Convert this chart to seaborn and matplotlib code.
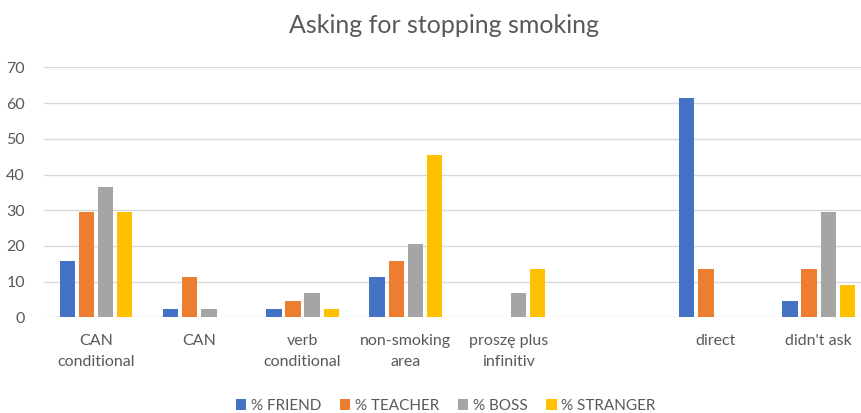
import numpy as np
import pandas as pd
import seaborn as sns
import matplotlib.pyplot as plt

sns.set_style('white')
plt.rcParams['font.family'] = ['Lato', 'DejaVu Sans']

categories = ['CAN\nconditional', 'CAN', 'verb\nconditional', 'non-smoking\narea',
              'proszę plus\ninfinitiv', '', 'direct', "didn't ask"]
series = ['% FRIEND', '% TEACHER', '% BOSS', '% STRANGER']
friend = [15.9, 2.3, 2.3, 11.4, 0, 0, 61.4, 4.5]
teacher = [29.5, 11.4, 4.5, 15.9, 0, 0, 13.6, 13.6]
boss = [36.4, 2.3, 6.8, 20.5, 6.8, 0, 0, 29.5]
stranger = [29.5, 0, 2.3, 45.5, 13.6, 0, 0, 9.1]
colors = ['#4472C4', '#ED7D31', '#A5A5A5', '#FFC000']

rows = []
for name, vals in zip(series, [friend, teacher, boss, stranger]):
    for c, v in zip(categories, vals):
        rows.append({'category': c, 'series': name, 'value': v})
df = pd.DataFrame(rows)

fig = plt.figure(figsize=(8.62, 4.13), dpi=100)
ax = fig.add_axes([0.0516, 0.2317, 0.958, 0.605])

sns.barplot(data=df, x='category', y='value', hue='series', order=categories,
            hue_order=series, palette=colors, width=0.74, gap=0.2,
            saturation=1, linewidth=0, ax=ax, legend=True)

ax.set_ylim(0, 70)
ax.set_yticks(range(0, 71, 10))
ax.set_xlim(-0.5, len(categories) - 0.5)
ax.grid(axis='y', color='#d9d9d9', lw=1)
ax.set_axisbelow(True)
for s in ax.spines.values():
    s.set_visible(False)
ax.set_xlabel('')
ax.set_ylabel('')
ax.tick_params(axis='both', length=0, labelsize=11.5, labelcolor='#595959')
ax.tick_params(axis='x', pad=12)
ax.tick_params(axis='y', pad=14)
for t in ax.get_xticklabels():
    t.set_linespacing(1.6)

fig.suptitle('Asking for stopping smoking', x=0.515, y=0.965, fontsize=18,
             color='#595959')

h, l = ax.get_legend_handles_labels()
ax.legend_.remove()
fig.legend(h, l, loc='center', bbox_to_anchor=(0.517, 0.018), ncol=4, frameon=False,
           fontsize=11, labelcolor='#595959', handlelength=0.7, handleheight=0.7,
           handletextpad=0.3, columnspacing=1.2)

fig.savefig('out.png', dpi=100)
